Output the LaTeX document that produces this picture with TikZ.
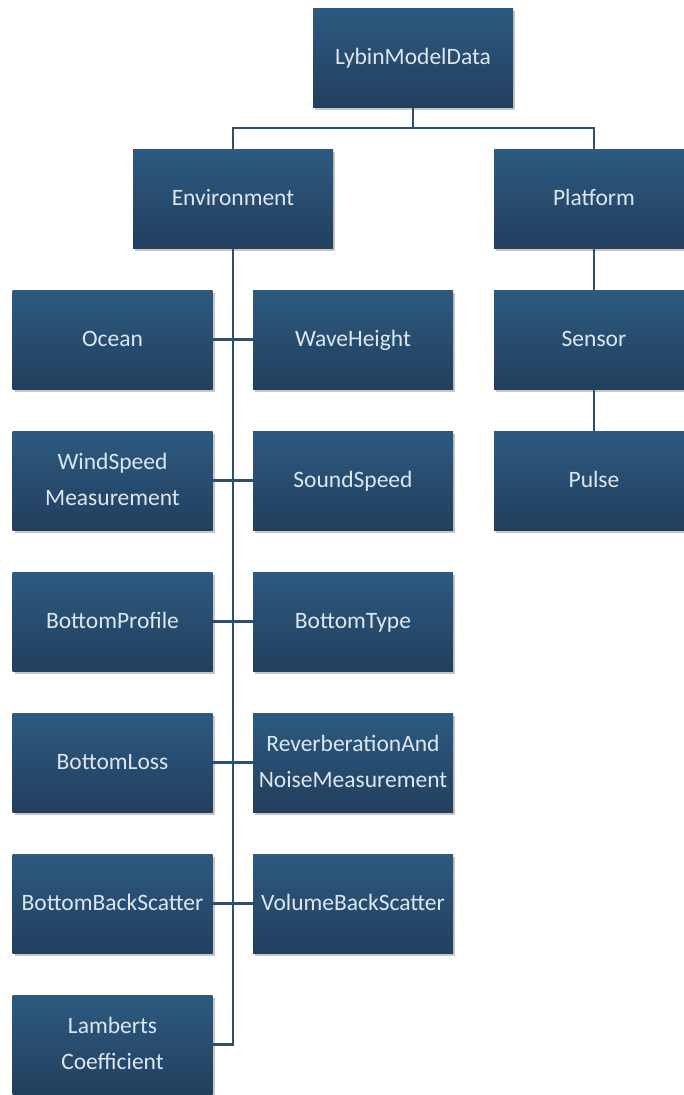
\documentclass[tikz,border=0pt]{standalone}
\usepackage{fontspec}
\setmainfont{Carlito}
\usetikzlibrary{shadows}
\definecolor{boxtop}{HTML}{2D5A80}
\definecolor{boxbot}{HTML}{223F5E}
\definecolor{boxtxt}{HTML}{DDE6EF}
\definecolor{linec}{HTML}{2E5070}
\newcommand{\bxline}[1]{\strut#1\strut}
\begin{document}
\begin{tikzpicture}[x=1pt,y=-1pt,
  entity/.style={rectangle, minimum width=200pt, minimum height=99pt, inner sep=0pt,
    top color=boxtop, bottom color=boxbot, draw=none, text=boxtxt,
    align=center, font=\fontsize{23.5}{36}\selectfont,
    drop shadow={shadow xshift=2pt, shadow yshift=-3pt, opacity=0.22, fill=black}},
  conn/.style={draw=linec, line width=2.2pt}]
\useasboundingbox (0,0) rectangle (683,1095);
\fill[white] (0,0) rectangle (683,1095);
\node[entity] (top) at (413,57.5) {\bxline{LybinModelData}};
\node[entity] (env) at (233,198.5) {\bxline{Environment}};
\node[entity] (plat) at (594,198.5) {\bxline{Platform}};
\node[entity] (sens) at (594,339.5) {\bxline{Sensor}};
\node[entity] (pulse) at (594,480.5) {\bxline{Pulse}};
\node[entity] (ocean) at (112.5,339.5) {\bxline{Ocean}};
\node[entity] (wave) at (353,339.5) {\bxline{WaveHeight}};
\node[entity] (wind) at (112.5,480.5) {\bxline{WindSpeed}\\\bxline{Measurement}};
\node[entity] (sound) at (353,480.5) {\bxline{SoundSpeed}};
\node[entity] (bprof) at (112.5,621.5) {\bxline{BottomProfile}};
\node[entity] (btype) at (353,621.5) {\bxline{BottomType}};
\node[entity] (bloss) at (112.5,762.5) {\bxline{BottomLoss}};
\node[entity] (rev) at (353,762.5) {\bxline{ReverberationAnd}\\\bxline{NoiseMeasurement}};
\node[entity] (bbs) at (112.5,903.5) {\bxline{BottomBackScatter}};
\node[entity] (vbs) at (353,903.5) {\bxline{VolumeBackScatter}};
\node[entity] (lam) at (112.5,1044.5) {\bxline{Lamberts}\\\bxline{Coefficient}};
\coordinate (bus) at (413,128);
\draw[conn] (top.south) -- (bus);
\draw[conn] (bus) -| (env.north);
\draw[conn] (bus) -| (plat.north);
\draw[conn] (plat.south) -- (sens.north);
\draw[conn] (sens.south) -- (pulse.north);
\draw[conn] (env.south) |- (lam.east);
\draw[conn] (ocean.east) -- (wave.west);
\draw[conn] (wind.east) -- (sound.west);
\draw[conn] (bprof.east) -- (btype.west);
\draw[conn] (bloss.east) -- (rev.west);
\draw[conn] (bbs.east) -- (vbs.west);
\end{tikzpicture}
\end{document}
